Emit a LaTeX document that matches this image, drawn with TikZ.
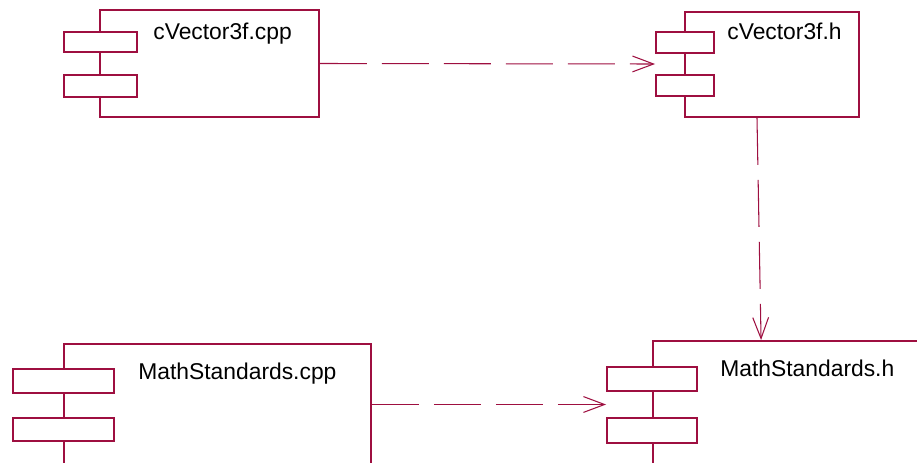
\documentclass[tikz,border=0pt]{standalone}
\usepackage{fontspec}
\setmainfont{Liberation Sans}
\usepackage{xcolor}
\usepackage{tikz}
\usetikzlibrary{positioning,arrows.meta,calc}
\definecolor{UMLmaroon}{HTML}{9E0F40}
\tikzset{
  compbody/.style={draw=UMLmaroon, line width=1.1pt, fill=white, inner sep=0pt},
  compport/.style={draw=UMLmaroon, line width=1.1pt, fill=white, inner sep=0pt},
  compname/.style={anchor=base west, inner sep=0pt, font=\fontsize{13}{15}\selectfont, text=black},
  deparr/.style={draw=UMLmaroon, line width=0.6pt, dash pattern=on 0.94cm off 0.3cm, -{Straight Barb[length=12pt, width=9pt, line width=0.6pt]}}
}

\begin{document}
\begin{tikzpicture}[x=0.02cm, y=-0.02cm]
      \useasboundingbox (0,0) rectangle (917,463);
      \clip (0,0) rectangle (917,463);
      % component bodies
      \node[compbody, minimum width=4.38cm, minimum height=2.14cm] (c1) at (209.5,63.5) {};
      \node[compbody, minimum width=3.48cm, minimum height=2.10cm] (c2) at (772,64.5) {};
      \node[compbody, minimum width=6.14cm, minimum height=4.32cm] (m1) at (217.5,452) {};
      \node[compbody, minimum width=6.14cm, minimum height=4.32cm] (m2) at (806.5,449) {};
      % the two little tabs on the left edge of each body
      \node[compport, minimum width=1.46cm, minimum height=0.41cm] (c1a) at (100.5,42) {};
      \node[compport, minimum width=1.46cm, minimum height=0.43cm] (c1b) at (100.5,86) {};
      \node[compport, minimum width=1.16cm, minimum height=0.42cm] (c2a) at (685,42.5) {};
      \node[compport, minimum width=1.16cm, minimum height=0.42cm] (c2b) at (685,85.5) {};
      \node[compport, minimum width=2.02cm, minimum height=0.48cm] (m1a) at (63.5,381) {};
      \node[compport, minimum width=2.02cm, minimum height=0.46cm] (m1b) at (63.5,429.5) {};
      \node[compport, minimum width=1.80cm, minimum height=0.48cm] (m2a) at (652,379) {};
      \node[compport, minimum width=1.80cm, minimum height=0.50cm] (m2b) at (652,430.5) {};
      % names
      \node[compname] (c1name) at (153,39.5) {cVector3f.cpp};
      \node[compname] (c2name) at (727,39.5) {cVector3f.h};
      \node[compname] (m1name) at (138,379) {MathStandards.cpp};
      \node[compname] (m2name) at (720,376.5) {MathStandards.h};
      % dependencies
      \coordinate (c2in) at ($(c2a.south west)!0.5!(c2b.north west)$);
      \coordinate (m2in) at ($(m2a.south west)!0.5!(m2b.north west)$);
      \draw[deparr] (c1.east) -- (c2in);
      \draw[deparr] ($(c2.south)+(-15,0)$) -- ($(m2.north west)+(109,0)$);
      \draw[deparr] (m1.east |- m2in) -- (m2in);
    \end{tikzpicture}
\end{document}
